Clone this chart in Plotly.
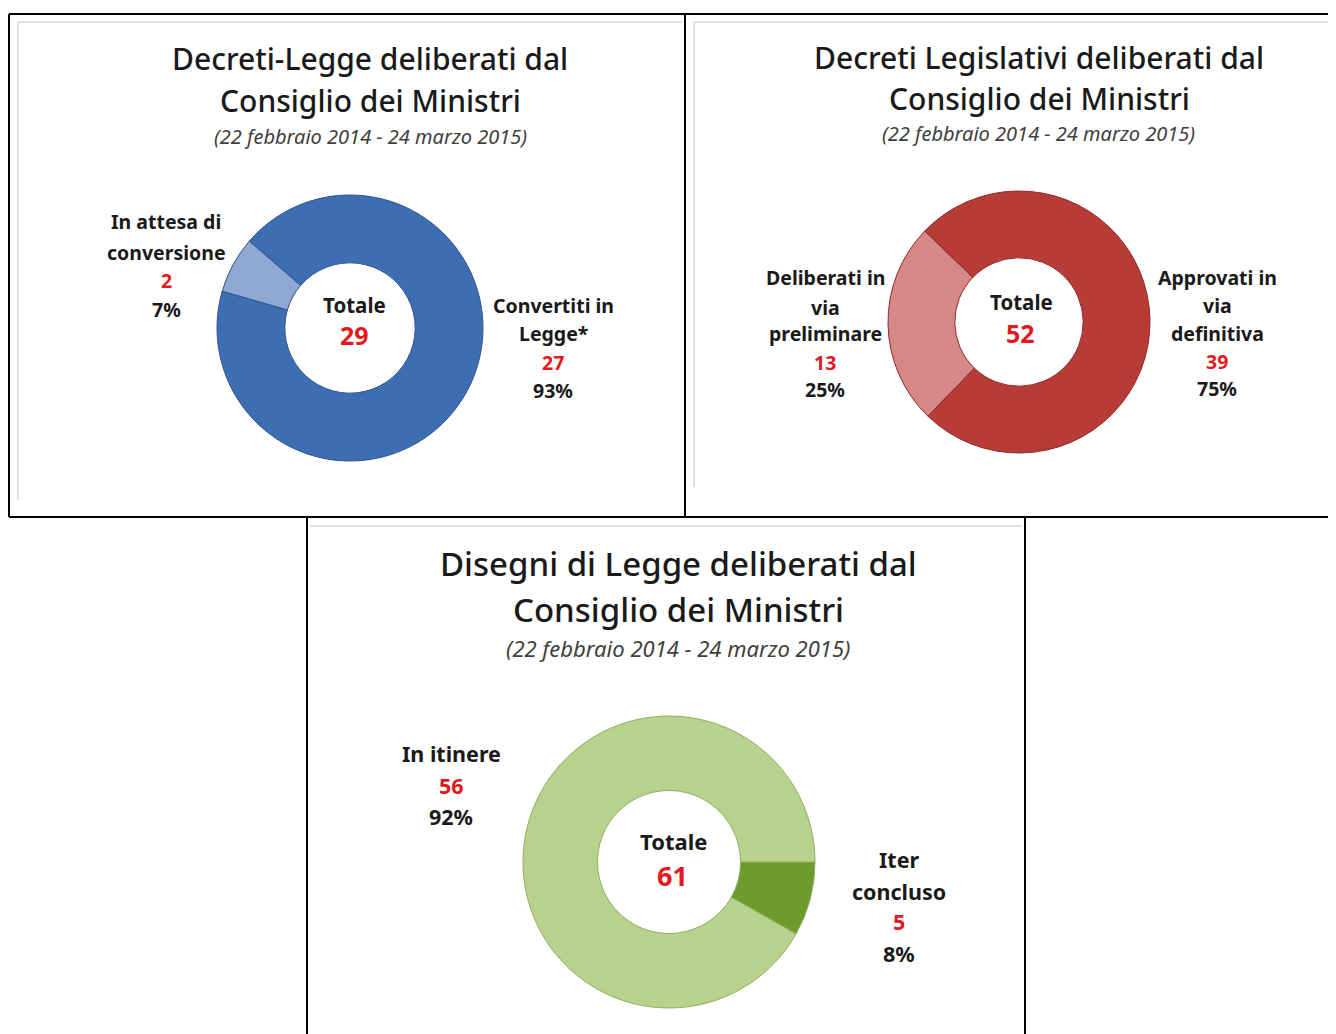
import plotly.graph_objects as go

# The page has an 8px body margin, so the figure starts at (8, 8).
OFF = 8
W, H = 1336 - OFF, 1034 - OFF

# ---- data ----
dl_labels = ["In attesa di conversione", "Convertiti in Legge*"]
dl_values = [2, 27]
dl_pct = ["7%", "93%"]
dl_total = 29

dlg_labels = ["Deliberati in via preliminare", "Approvati in via definitiva"]
dlg_values = [13, 39]
dlg_pct = ["25%", "75%"]
dlg_total = 52

ddl_labels = ["Iter concluso", "In itinere"]
ddl_values = [5, 56]
ddl_pct = ["8%", "92%"]
ddl_total = 61

TITLE_L2 = "Consiglio dei Ministri"
SUBTITLE = "(22 febbraio 2014 - 24 marzo 2015)"

FONT = "Noto Sans"
RED = "#E3191F"
DARK = "#1a1a1a"


def px(x):
    return (x - OFF) / W


def py(y):
    return 1 - (y - OFF) / H


fig = go.Figure()


def add_pie(labels, values, colors, line_colors, cx, cy, r, rotation):
    fig.add_trace(go.Pie(
        labels=labels, values=values, hole=0.49, sort=False,
        direction="clockwise", rotation=rotation,
        textinfo="none", hoverinfo="label+value+percent",
        marker=dict(colors=colors, line=dict(color=line_colors, width=1)),
        domain=dict(x=[px(cx - r), px(cx + r)], y=[py(cy + r), py(cy - r)]),
        showlegend=False,
    ))


add_pie(dl_labels, dl_values, ["#8FA7D2", "#3D6DB3"], "#2E5690", 350, 328, 133, -74)
add_pie(dlg_labels, dlg_values, ["#D68886", "#B73B37"], "#8E2A28", 1019, 322, 131, -136)
add_pie(ddl_labels, ddl_values, ["#6E9B2E", "#B6D28C"], "#8FAF5E", 669, 862, 146, 90)


def txt(x, y, s, size=19, color=DARK, weight="bold", italic=False, family=FONT):
    fig.add_annotation(
        x=px(x), y=py(y), xref="paper", yref="paper", text=s, showarrow=False,
        xanchor="center", yanchor="middle",
        font=dict(family=family, size=size, color=color, weight=weight,
                  style="italic" if italic else "normal"),
    )


def block(x, ys, lines, value, pct, size=19):
    for yy, ln in zip(ys[:len(lines)], lines):
        txt(x, yy, ln, size=size)
    txt(x, ys[len(lines)], str(value), size=size, color=RED)
    txt(x, ys[len(lines) + 1], pct, size=size)


TW = 500  # title weight

# Panel 1
txt(370, 58, "Decreti-Legge deliberati dal", size=30, weight=TW)
txt(370, 100, TITLE_L2, size=30, weight=TW)
txt(370, 136, SUBTITLE, size=20, color="#404040", weight="normal", italic=True)
block(166, [222, 252, 280, 309], ["In attesa di", "conversione"], dl_values[0], dl_pct[0], size=19.5)
block(553, [305, 334, 362, 391], ["Convertiti in", "Legge*"], dl_values[1], dl_pct[1], size=19.5)
txt(355, 305, "Totale", size=20.5)
txt(355, 335, str(dl_total), size=25, color=RED)

# Panel 2
txt(1039, 57, "Decreti Legislativi deliberati dal", size=30, weight=TW)
txt(1039, 98, TITLE_L2, size=30, weight=TW)
txt(1038, 133, SUBTITLE, size=20, color="#404040", weight="normal", italic=True)
block(825, [278, 307, 334, 362, 390], ["Deliberati in", "via", "preliminare"], dlg_values[0], dlg_pct[0], size=19.5)
block(1217, [277, 305, 333, 361, 388], ["Approvati in", "via", "definitiva"], dlg_values[1], dlg_pct[1], size=19.5)
txt(1021, 302, "Totale", size=20.5)
txt(1020, 333, str(dlg_total), size=25, color=RED)

# Panel 3
txt(679, 563, "Disegni di Legge deliberati dal", size=33, weight=TW)
txt(679, 609, TITLE_L2, size=33, weight=TW)
txt(678, 648, SUBTITLE, size=22, color="#404040", weight="normal", italic=True)
block(451, [753, 785, 816], ["In itinere"], ddl_values[1], ddl_pct[1], size=21.5)
block(899, [859, 891, 921, 953], ["Iter", "concluso"], ddl_values[0], ddl_pct[0], size=21.5)
txt(673, 841, "Totale", size=22)
txt(672, 875, str(ddl_total), size=27, color=RED)

# Frames
shapes = []
def line(x0, y0, x1, y1, color="black", width=2):
    shapes.append(dict(type="line", xref="paper", yref="paper",
                       x0=px(x0), y0=py(y0), x1=px(x1), y1=py(y1),
                       line=dict(color=color, width=width)))

# inner light frames
line(18, 22, 683, 22, "#D5D9E2", 1.5)
line(18, 22, 18, 500, "#D5D9E2", 1.5)
line(694, 22, 1336, 22, "#D5D9E2", 1.5)
line(694, 22, 694, 487, "#D5D9E2", 1.5)
line(310, 526, 1022, 526, "#D5D9E2", 1.5)
# black frames
line(9, 14, 1336, 14)
line(9, 14, 9, 517)
line(9, 517, 1336, 517)
line(685, 14, 685, 517)
line(307, 517, 307, 1034)
line(1025, 517, 1025, 1034)

fig.update_layout(
    width=W, height=H, margin=dict(l=0, r=0, t=0, b=0),
    paper_bgcolor="white", plot_bgcolor="white", shapes=shapes,
)

fig.write_html("out.html")
